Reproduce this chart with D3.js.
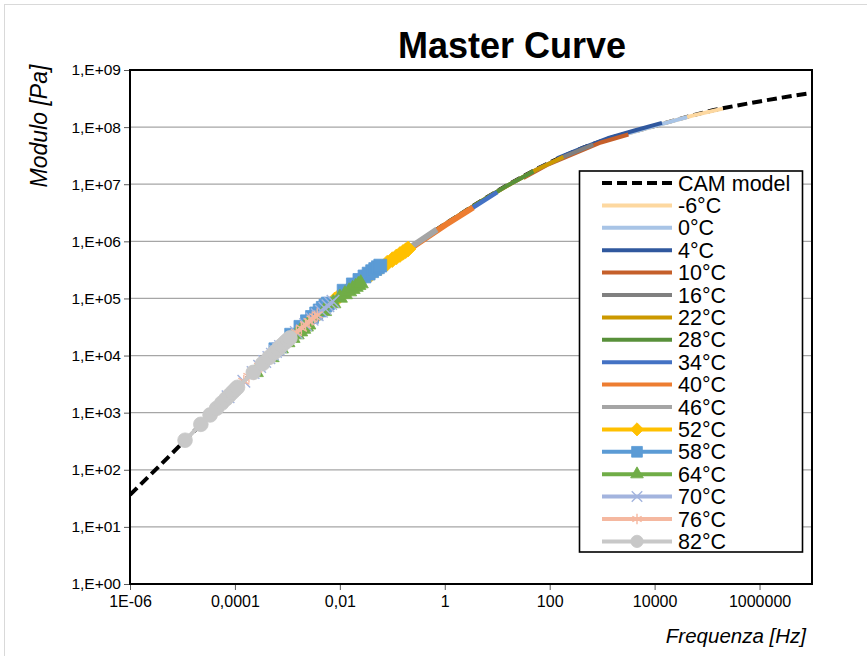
<!DOCTYPE html>
<html>
<head>
<meta charset="utf-8">
<script src="https://cdn.jsdelivr.net/npm/d3@7/dist/d3.min.js"></script>
<style>
  html, body { margin: 0; padding: 0; background: #fff; }
  svg { display: block; font-family: "Liberation Sans", Arial, sans-serif; }
</style>
</head>
<body>
<svg id="chart" width="867" height="656"></svg>
<script>
// ---- Data -------------------------------------------------------------
const temperatures = ["-6°C","0°C","4°C","10°C","16°C","22°C","28°C","34°C",
                      "40°C","46°C","52°C","58°C","64°C","70°C","76°C","82°C"];

// CAM model (modulus vs reduced frequency)
const camFreq = [1e-6,1e-5,1e-4,1e-3,1e-2,1e-1,1,10,100,1e3,1e4,1e5,1e6,1e7];
const camModulus = [36.3,295,2512,1.862e4,1.122e5,4.786e5,1.995e6,7.586e6,
                    2.399e7,5.754e7,1.047e8,1.862e8,2.818e8,3.981e8];

// Test frequencies [Hz]
const sweepShort = [0.1,0.3,1,3,10];
const sweepFull = [0.1,0.2,0.3,0.4,0.5,0.6,0.7,0.8,0.9,1,2,3,4,5,6,7,8,9,10];

// Shift factors aT (reference temperature 34°C)
const shiftFactor = [2.0e4,4.17e3,1.38e3,316,67.6,18.2,4.9,1,
                     0.347,0.0708,0.02,5.9e-3,2.5e-3,7.4e-4,3.7e-4,1.12e-4];

// Measured modulus [Pa] per temperature
const modM6  = [6.887e7,9.162e7,1.245e8,1.637e8,2.109e8];
const mod0   = [4.130e7,6.095e7,8.337e7,1.107e8,1.496e8];
const mod4   = [2.838e7,4.305e7,6.546e7,8.710e7,1.189e8];
const mod10  = [1.288e7,2.234e7,3.548e7,5.383e7,7.413e7];
const mod16  = [6.039e6,1.081e7,1.972e7,3.141e7,4.955e7];
const mod22  = [2.825e6,5.333e6,1.023e7,1.774e7,3.013e7];
const mod28  = [1.282e6,2.495e6,5.012e6,9.204e6,1.679e7];
const mod34  = [4.571e5,9.036e5,1.905e6,3.606e6,7.244e6];
const mod40  = [2.344e5,4.677e5,9.886e5,1.950e6,3.917e6];
const mod46  = [8.570e4,1.803e5,3.855e5,7.638e5,1.611e6];
const mod52  = [3.19e4,5.48e4,7.52e4,9.42e4,1.12e5,1.256e5,1.384e5,1.507e5,1.622e5,1.734e5,
                2.685e5,3.467e5,4.150e5,4.775e5,5.346e5,5.888e5,6.397e5,6.871e5,7.345e5];
const mod58  = [1.288e4,2.317e4,3.184e4,3.981e4,4.742e4,5.458e4,6.166e4,6.839e4,7.499e4,8.147e4,
                1.365e5,1.762e5,2.109e5,2.427e5,2.723e5,3.000e5,3.266e5,3.516e5,3.758e5];
const mod64  = [5.105e3,9.333e3,1.327e4,1.706e4,2.028e4,2.339e4,2.636e4,2.924e4,3.206e4,3.483e4,
                5.984e4,8.204e4,1.026e5,1.180e5,1.324e5,1.459e5,1.589e5,1.710e5,1.828e5];
const mod70  = [1.901e3,3.540e3,5.035e3,6.471e3,7.852e3,9.204e3,1.052e4,1.183e4,1.309e4,1.435e4,
                2.529e4,3.475e4,4.345e4,5.176e4,5.957e4,6.730e4,7.464e4,8.185e4,8.892e4];
const mod76  = [1.000e3,1.905e3,2.761e3,3.548e3,4.305e3,5.047e3,5.768e3,6.486e3,7.178e3,7.870e3,
                1.439e4,2.028e4,2.535e4,3.020e4,3.475e4,3.926e4,4.355e4,4.775e4,5.188e4];
const mod82  = [3.289e2,6.252e2,9.120e2,1.191e3,1.469e3,1.738e3,2.004e3,2.270e3,2.529e3,2.780e3,
                5.070e3,7.211e3,9.268e3,1.127e4,1.318e4,1.510e4,1.694e4,1.875e4,2.037e4];

const moduli = [modM6,mod0,mod4,mod10,mod16,mod22,mod28,mod34,mod40,mod46,
                mod52,mod58,mod64,mod70,mod76,mod82];

const colors = ["#fdd8a0","#a8c4e6","#30589e","#c55f2a","#808080","#cc9900","#58903a","#4472c4",
                "#ed7d31","#a5a5a5","#ffc000","#5b9bd5","#70ad47","#a3b4de","#f5b8a0","#c8c8c8"];
const markers = [null,null,null,null,null,null,null,null,null,null,
                 "diamond","square","triangle","x","star","circle"];
const lineWidths = [4,4,4,4,4,4,4,4.5,6,6,4,4,4,4,4,4];

const xTickValues = [1e-6,1e-4,1e-2,1,100,1e4,1e6];
const xTickLabels = ["1E-06","0,0001","0,01","1","100","10000","1000000"];
const yTickValues = [1,10,100,1e3,1e4,1e5,1e6,1e7,1e8,1e9];
const yTickLabels = ["1,E+00","1,E+01","1,E+02","1,E+03","1,E+04","1,E+05","1,E+06","1,E+07","1,E+08","1,E+09"];

// ---- Layout -----------------------------------------------------------
const svg = d3.select("#chart");
const plot = {left: 130, right: 812, top: 70, bottom: 584};

const x = d3.scaleLog().domain([1e-6, 1e7]).range([plot.left, plot.right]);
const y = d3.scaleLog().domain([1, 1e9]).range([plot.bottom, plot.top]);

// outer chart frame
svg.append("rect").attr("x", 4.5).attr("y", 4.5).attr("width", 880).attr("height", 680)
  .attr("fill", "none").attr("stroke", "#d9d9d9").attr("stroke-width", 1);

// title
svg.append("text").attr("x", 512).attr("y", 58).attr("text-anchor", "middle")
  .attr("font-size", 36).attr("font-weight", "bold").attr("fill", "#000").text("Master Curve");

// gridlines
svg.append("g").selectAll("line").data(yTickValues.slice(1, -1)).join("line")
  .attr("x1", plot.left).attr("x2", plot.right)
  .attr("y1", d => y(d)).attr("y2", d => y(d))
  .attr("stroke", "#a6a6a6").attr("stroke-width", 1.3);

// axes
const yAxis = d3.axisLeft(y).tickValues(yTickValues)
  .tickFormat((d, i) => yTickLabels[i]).tickSize(6).tickPadding(3);
const gy = svg.append("g").attr("transform", `translate(${plot.left},0)`).call(yAxis);
gy.select(".domain").remove();
gy.selectAll(".tick line").attr("stroke", "#595959");
gy.selectAll(".tick text").attr("font-size", 15.5).attr("fill", "#000")
  .attr("font-family", "Liberation Sans, Arial, sans-serif");

const xAxis = d3.axisBottom(x).tickValues(xTickValues)
  .tickFormat((d, i) => xTickLabels[i]).tickSize(6).tickPadding(6);
const gx = svg.append("g").attr("transform", `translate(0,${plot.bottom})`).call(xAxis);
gx.select(".domain").remove();
gx.selectAll(".tick line").attr("stroke", "#595959");
gx.selectAll(".tick text").attr("font-size", 16).attr("fill", "#000")
  .attr("font-family", "Liberation Sans, Arial, sans-serif");

// axis titles
svg.append("text").attr("transform", "translate(47,126) rotate(-90)")
  .attr("text-anchor", "middle").attr("font-size", 23).attr("font-style", "italic")
  .text("Modulo [Pa]");
svg.append("text").attr("x", 806).attr("y", 643).attr("text-anchor", "end")
  .attr("font-size", 20.5).attr("font-style", "italic").text("Frequenza [Hz]");

// ---- Series -----------------------------------------------------------
svg.append("clipPath").attr("id", "plotClip").append("rect")
  .attr("x", plot.left).attr("y", plot.top)
  .attr("width", plot.right - plot.left).attr("height", plot.bottom - plot.top);

const layer = svg.append("g").attr("clip-path", "url(#plotClip)");

// CAM model (dashed)
const camData = camFreq.map((f, i) => ({f, g: camModulus[i]}));
layer.append("path").datum(camData)
  .attr("d", d3.line().x(d => x(d.f)).y(d => y(d.g)).curve(d3.curveMonotoneX))
  .attr("fill", "none").attr("stroke", "#000").attr("stroke-width", 4)
  .attr("stroke-dasharray", "10,5");

// square-diamond (rotated square) marker
const symbolRhombus = {
  draw(context, size) {
    const r = Math.sqrt(size / 2);
    context.moveTo(0, -r); context.lineTo(r, 0); context.lineTo(0, r); context.lineTo(-r, 0);
    context.closePath();
  }
};
const symbolFor = {
  diamond: symbolRhombus, square: d3.symbolSquare, triangle: d3.symbolTriangle,
  x: d3.symbolTimes, star: d3.symbolAsterisk, circle: d3.symbolCircle
};
const symbolSize = {diamond: 125, square: 165, triangle: 100, x: 105, star: 115, circle: 170};

function drawMarker(g, type, color, scale) {
  const sym = d3.symbol().type(symbolFor[type]).size(symbolSize[type] * scale);
  const p = g.append("path").attr("d", sym());
  if (type === "x" || type === "star") {
    p.attr("fill", "none").attr("stroke", color).attr("stroke-width", 1.4);
  } else {
    p.attr("fill", color).attr("stroke", color).attr("stroke-width", 0.8);
  }
  return p;
}

temperatures.forEach((t, s) => {
  const sweep = moduli[s].length === sweepFull.length ? sweepFull : sweepShort;
  const pts = sweep.map((f, i) => ({f: f * shiftFactor[s], g: moduli[s][i]}));
  const g = layer.append("g");
  g.append("path").datum(pts)
    .attr("d", d3.line().x(d => x(d.f)).y(d => y(d.g)))
    .attr("fill", "none").attr("stroke", colors[s]).attr("stroke-width", lineWidths[s])
    .attr("stroke-linejoin", "round");
  if (markers[s]) {
    pts.forEach(d => {
      const m = g.append("g").attr("transform", `translate(${x(d.f)},${y(d.g)})`);
      drawMarker(m, markers[s], colors[s], 1);
    });
  }
});

// plot border
svg.append("rect").attr("x", plot.left).attr("y", plot.top)
  .attr("width", plot.right - plot.left).attr("height", plot.bottom - plot.top)
  .attr("fill", "none").attr("stroke", "#000").attr("stroke-width", 2);

// ---- Legend -----------------------------------------------------------
const legend = svg.append("g");
legend.append("rect").attr("x", 579.5).attr("y", 171).attr("width", 223).attr("height", 381)
  .attr("fill", "#fff").attr("stroke", "#000").attr("stroke-width", 1.6);

const legendNames = ["CAM model"].concat(temperatures);
legendNames.forEach((name, i) => {
  const yy = 183 + i * 22.4;
  const row = legend.append("g");
  if (i === 0) {
    row.append("line").attr("x1", 602).attr("x2", 672).attr("y1", yy).attr("y2", yy)
      .attr("stroke", "#000").attr("stroke-width", 4).attr("stroke-dasharray", "10,5");
  } else {
    const s = i - 1;
    row.append("line").attr("x1", 602).attr("x2", 672).attr("y1", yy).attr("y2", yy)
      .attr("stroke", colors[s]).attr("stroke-width", 4);
    if (markers[s]) {
      const m = row.append("g").attr("transform", `translate(637,${yy})`);
      drawMarker(m, markers[s], colors[s], 0.7);
    }
  }
  row.append("text").attr("x", 678).attr("y", yy).attr("dy", "0.35em")
    .attr("font-size", 21.5).attr("fill", "#000").text(name);
});
</script>
</body>
</html>
